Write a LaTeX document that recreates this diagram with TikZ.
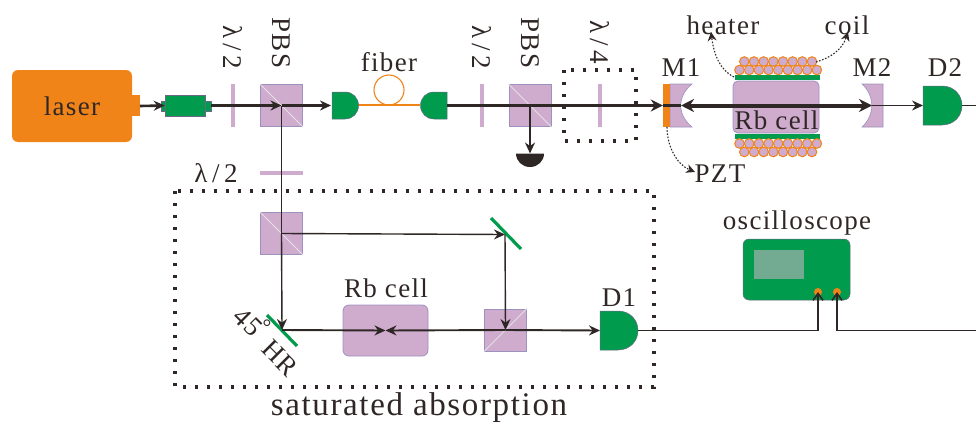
\documentclass[tikz,border=0pt]{standalone}
\usepackage{fontspec}
\setmainfont[LetterSpace=5]{Liberation Serif}
\usetikzlibrary{arrows.meta}
\definecolor{cOrange}{HTML}{F18419}
\definecolor{cGreen}{HTML}{009B4C}
\definecolor{cPurple}{HTML}{CFABCE}
\definecolor{cEdge}{HTML}{9C92BF}
\definecolor{cDark}{HTML}{2F2725}
\definecolor{cScreen}{HTML}{73AB92}
\definecolor{cDiag}{HTML}{E4E0E4}
\tikzset{
  lbl/.style={font=\fontsize{27}{29}\selectfont,text=cDark,inner sep=0pt},
  lblv/.style={lbl,rotate=-90},
  cube/.style={draw=cEdge,line width=.8pt,fill=cPurple,minimum width=42pt,minimum height=42pt,inner sep=0pt},
  plate/.style={fill=cPurple,minimum width=3.6pt,minimum height=43pt,inner sep=0pt},
  plateh/.style={fill=cPurple,minimum width=43pt,minimum height=3.6pt,inner sep=0pt},
  splitter/.style={draw=cDiag,line width=1pt},
  greenpart/.style={fill=cGreen,draw=cEdge!70!black,line width=.5pt},
  mirrorbar/.style={draw=cGreen,line width=3.2pt},
  heat/.style={fill=cGreen,minimum width=85pt,minimum height=5pt,inner sep=0pt},
  wire/.style={fill=cPurple,draw=cOrange,line width=1pt,circle,minimum size=9.6pt,inner sep=0pt},
  dotbox/.style={draw=cDark,line width=3.4pt,dash pattern=on 3.4pt off 8.6pt},
  thinbeam/.style={draw=cDark,line width=1.4pt,-{Stealth[length=11pt,width=10pt]}},
  midbeam/.style={draw=cDark,line width=1.9pt,-{Stealth[length=11pt,width=10pt]}},
  fatbeam/.style={draw=cDark,line width=3.4pt,-{Stealth[length=12pt,width=12pt]}},
  cavbeam/.style={draw=cDark,line width=4pt,{Stealth[length=13pt,width=13pt]}-{Stealth[length=13pt,width=13pt]}},
  sigwire/.style={draw=cDark,line width=1.3pt},
  openend/.style={draw=cDark,line width=1.6pt,-{Straight Barb[length=7pt,width=10pt]}},
  dotarrow/.style={draw=cDark,line width=1.1pt,dash pattern=on 1.6pt off 1.6pt,-{Stealth[length=9pt,width=9pt,line width=0pt]}},
}
\begin{document}
\begin{tikzpicture}[x=1pt,y=-1pt]
\useasboundingbox (0,0) rectangle (976,423);
% laser
\fill[cOrange] (132,95) rectangle (140,116);
\node[fill=cOrange,rounded corners=6pt,minimum width=120pt,minimum height=72pt,inner sep=0pt,lbl] (laser) at (72,106) {laser};
% isolator
\fill[cGreen,draw=cEdge!70!black,line width=.4pt] (161,101) rectangle (211,111);
\node[draw=cEdge!70!black,line width=.6pt,fill=cGreen,minimum width=40pt,minimum height=21pt,inner sep=0pt] (iso) at (185,105.5) {};
% plates and cubes, top row
\node[plate] (hwA) at (233,105.5) {};
\node[cube] (pbsA) at (281.5,105.5) {};
\draw[splitter] (pbsA.north west) -- (pbsA.south east);
\node[plate] (hwB) at (482,105.5) {};
\node[cube] (pbsB) at (530,105.5) {};
\draw[splitter] (pbsB.north west) -- (pbsB.south east);
\node[plate] (qw) at (600,105.5) {};
\node[plateh] (hwC) at (281.5,173) {};
% fibre
\coordinate (cplA) at (358,105);
\coordinate (cplB) at (420,105);
\draw[cOrange,line width=1.1pt] (cplA) -- (cplB);
\node[draw=cOrange,line width=1.1pt,circle,minimum size=30pt,inner sep=0pt] (loop) at (389,90) {};
% couplers
\path[greenpart] (332,92) -- (345,92) .. controls (353,92) and (358.5,98) .. (358.5,105.5) .. controls (358.5,113) and (353,119) .. (345,119) -- (332,119) -- cycle;
\path[greenpart] (447,92) -- (434,92) .. controls (426,92) and (420.5,98) .. (420.5,105.5) .. controls (420.5,113) and (426,119) .. (434,119) -- (447,119) -- cycle;
% half disc detector
\path[fill=cDark] (516,153.5) -- (544,153.5) .. controls (544,161) and (538,167) .. (530,167) .. controls (522,167) and (516,161) .. (516,153.5) -- cycle;
\coordinate (dump) at (530,153.5);
% M1, PZT
\path[fill=cPurple,draw=cEdge,line width=.6pt] (670,84) -- (692,84) .. controls (677,96) and (677,115) .. (692,127) -- (670,127) -- cycle;
\node[fill=cOrange,minimum width=7pt,minimum height=43pt,inner sep=0pt] (pzt) at (666.5,105.5) {};
% M2
\path[fill=cPurple,draw=cEdge,line width=.6pt] (862,84) -- (883,84) -- (883,127) -- (862,127) .. controls (875,115) and (875,96) .. (862,84) -- cycle;
\coordinate (m1face) at (681,105.5);
\coordinate (m2face) at (872,105.5);
% cell with heaters and coils
\node[draw=cEdge,line width=.8pt,fill=cPurple,rounded corners=5pt,minimum width=86pt,minimum height=52pt,inner sep=0pt] (cellA) at (776,107) {};
\node[heat] (htA) at (777.5,77.5) {};
\node[heat] (htB) at (777.5,136.5) {};
\foreach \i in {0,...,7}{
  \node[wire] at ({744.3+9.67*\i},61.5) {};
  \node[wire] at ({744.3+9.67*\i},152) {};
}
\foreach \i in {0,...,8}{
  \node[wire] at ({739.5+9.67*\i},70) {};
  \node[wire] at ({739.5+9.67*\i},143.5) {};
}
\coordinate (coilTop) at (816,62);
% D2
\path[greenpart] (923,86) -- (942,86) .. controls (954,86) and (962,95) .. (962,105.5) .. controls (962,116) and (954,125) .. (942,125) -- (923,125) -- cycle;
\coordinate (dTwoIn) at (923,105.5);
\coordinate (dTwoOut) at (962,105.5);
\coordinate (rightA) at (976,105.5);
% lower: cubes, cell
\node[cube] (pbsC) at (281.5,233.5) {};
\draw[splitter] (pbsC.north west) -- (pbsC.south east);
\node[cube] (pbsD) at (505.5,330) {};
\draw[splitter] (pbsD.south west) -- (pbsD.north east);
\node[draw=cEdge,line width=.8pt,fill=cPurple,rounded corners=6pt,minimum width=85pt,minimum height=51pt,inner sep=0pt] (cellB) at (385.5,330.5) {};
% mirrors
\coordinate (hrA) at (267,315);
\coordinate (hrB) at (297,346);
\coordinate (hrC) at (282,330);
\draw[mirrorbar] (hrA) -- (hrB);
\coordinate (mA) at (491,218);
\coordinate (mB) at (521,249);
\coordinate (mC) at (505,234.5);
\draw[mirrorbar] (mA) -- (mB);
% D1
\path[greenpart] (600,311) -- (618,311) .. controls (630,311) and (638,320) .. (638,330.5) .. controls (638,341) and (630,350) .. (618,350) -- (600,350) -- cycle;
\coordinate (dOneIn) at (600,330.5);
\coordinate (dOneOut) at (638,330.5);
% oscilloscope
\node[fill=cGreen,draw=cEdge!70!black,line width=.5pt,rounded corners=6pt,minimum width=107pt,minimum height=61pt,inner sep=0pt] (scope) at (796.5,269.5) {};
\node[fill=cScreen,minimum width=50pt,minimum height=29pt,inner sep=0pt] (screen) at (779,264.5) {};
\node[fill=cOrange,circle,minimum size=8pt,inner sep=0pt] (portA) at (818,292) {};
\node[fill=cOrange,circle,minimum size=8pt,inner sep=0pt] (portB) at (837,292) {};
% beams
\draw[midbeam,line width=2.6pt] (140,106) -- (iso.west);
\draw[midbeam,line width=2.6pt] (211,105.5) -- (pbsA.center);
\draw[midbeam,line width=2.6pt] (pbsA.center) -- (331,105.5);
\draw[thinbeam,-] (pbsA.center) -- (pbsC.center);
\draw[thinbeam] (pbsC.center) -- (hrC);
\draw[fatbeam] (447,105.5) -- (pzt.west);
\draw[midbeam] (pbsB.center) -- (dump);
\draw[cDark,line width=3pt] (pzt.west) -- (m1face);
\draw[cavbeam] (m1face) -- (m2face);
\draw[thinbeam] (m2face) -- (dTwoIn);
\draw[sigwire] (dTwoOut) -- (rightA);
\draw[thinbeam] (pbsC.center) -- (mC);
\draw[thinbeam] (mC) -- (pbsD.center);
\draw[midbeam] (hrC) -- (cellB.center);
\draw[midbeam] (pbsD.center) -- (cellB.center);
\draw[midbeam] (pbsD.center) -- (dOneIn);
\draw[sigwire] (dOneOut) -- (818,330.5);
\draw[openend] (818,331) -- (portA.center);
\coordinate (rightB) at (976,330.5);
\draw[sigwire] (rightB) -- (837,330.5);
\draw[openend] (837,331) -- (portB.center);
% dotted frames
\draw[dotbox] (175,191) rectangle (654,387);
\draw[dotbox] (564,70) rectangle (636,141);
% dotted leaders
\coordinate (htEnd) at (711,32);
\coordinate (cEnd) at (848,32);
\coordinate (pEnd) at (695,172);
\draw[dotarrow] (734,77) .. controls (720,70) and (714,55) .. (htEnd);
\draw[dotarrow] (coilTop) .. controls (830,58) and (842,50) .. (cEnd);
\draw[dotarrow] (667,127) .. controls (667,148) and (678,165) .. (pEnd);
% labels
\node[lblv] (tA) at (233,47) {λ\,/\,2};
\node[lblv] (tB) at (281.5,43) {PBS};
\node[lblv] (tC) at (482,47) {λ\,/\,2};
\node[lblv] (tD) at (530,43) {PBS};
\node[lblv] (tE) at (600,42) {λ\,/\,4};
\node[lbl] (tF) at (216,173) {λ\,/\,2};
\node[lbl] (tG) at (389,62) {fiber};
\node[lbl] (tH) at (723,25) {heater};
\node[lbl] (tI) at (847,25) {coil};
\node[lbl] (tJ) at (681,68) {M1};
\node[lbl] (tK) at (872,68) {M2};
\node[lbl] (tL) at (945,68) {D2};
\node[lbl] (tM) at (776.5,120) {Rb cell};
\node[lbl] (tN) at (720,174) {PZT};
\node[lbl] (tO) at (386,288) {Rb cell};
\node[lbl] (tP) at (619,298) {D1};
\node[lbl] (tQ) at (797,223) {oscilloscope};
\node[lbl,rotate=-45] (tR) at (248,322) {45};
\node[lbl,font=\fontsize{22}{24}\selectfont] (tU) at (267,327) {°};
\node[lbl,rotate=-45] (tS) at (280,358) {HR};
\node[lbl,font=\fontsize{33}{35}\selectfont] (tT) at (419,407.5) {saturated absorption};
\end{tikzpicture}
\end{document}
